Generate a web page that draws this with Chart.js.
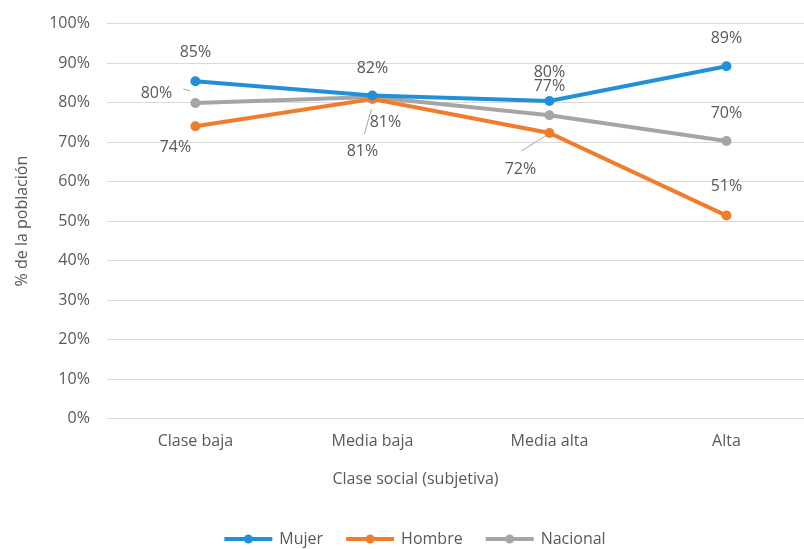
<!DOCTYPE html>
<html>
<head>
<meta charset="utf-8">
<script src="https://cdn.jsdelivr.net/npm/chart.js@4.4.1/dist/chart.umd.min.js"></script>
<style>
  html, body { margin: 0; padding: 0; background: #fff; overflow: hidden; }
  .chart-container { position: relative; width: 820px; height: 552px; margin-top: -3px; }
</style>
</head>
<body>
<div class="chart-container"><canvas id="chart"></canvas></div>
<script>
const categories = ["Clase baja", "Media baja", "Media alta", "Alta"];
const mujer = [85.4, 81.8, 80.4, 89.2];
const hombre = [74.0, 80.9, 72.3, 51.4];
const nacional = [79.9, 81.4, 76.8, 70.3];

const colors = { mujer: "#2190d8", hombre: "#f07d2c", nacional: "#a5a5a5" };
const textColor = "#595959";
const font = "'Open Sans', 'DejaVu Sans', sans-serif";

// label offsets from each point, in px, plus optional leader lines
const labelPlacement = [
  { offsets: [[0, -29], [0, -27], [0, -29], [0, -28]] },
  { offsets: [[-20, 21], [13, 23], [-29, 36], [0, -29]],
    leaders: [null, null, [-4, 3, -28, 18], null] },
  { offsets: [[-39, -10], [-10, 54], [0, -29], [0, -27]],
    leaders: [[-12, -14, -5, -12], [-1, 12, -8, 37], null, null] },
];

function legendIcon(color) {
  const c = document.createElement("canvas");
  c.width = 52;
  c.height = 12;
  const ctx = c.getContext("2d");
  ctx.strokeStyle = color;
  ctx.lineWidth = 4;
  ctx.beginPath();
  ctx.moveTo(2, 6);
  ctx.lineTo(50, 6);
  ctx.stroke();
  ctx.fillStyle = color;
  ctx.beginPath();
  ctx.arc(26, 6, 4.5, 0, Math.PI * 2);
  ctx.fill();
  return c;
}

const pointLabels = {
  id: "pointLabels",
  afterDatasetsDraw(chart) {
    const ctx = chart.ctx;
    ctx.save();
    ctx.font = "16px " + font;
    ctx.fillStyle = textColor;
    ctx.textAlign = "center";
    ctx.textBaseline = "middle";
    chart.data.datasets.forEach((ds, i) => {
      const meta = chart.getDatasetMeta(i);
      const place = labelPlacement[i];
      meta.data.forEach((pt, j) => {
        const [dx, dy] = place.offsets[j];
        if (place.leaders && place.leaders[j]) {
          const l = place.leaders[j];
          ctx.strokeStyle = "#a6a6a6";
          ctx.lineWidth = 1;
          ctx.beginPath();
          ctx.moveTo(pt.x + l[0], pt.y + l[1]);
          ctx.lineTo(pt.x + l[2], pt.y + l[3]);
          ctx.stroke();
        }
        ctx.fillText(Math.round(ds.data[j]) + "%", pt.x + dx, pt.y + dy);
      });
    });
    ctx.restore();
  },
};

const makeSet = (label, data, color) => ({
  label: label,
  data: data,
  borderColor: color,
  backgroundColor: color,
  borderWidth: 4,
  pointRadius: 5,
  pointHoverRadius: 5,
  pointBorderWidth: 0,
  tension: 0,
  legendIcon: legendIcon(color),
});

new Chart(document.getElementById("chart"), {
  type: "line",
  data: {
    labels: categories,
    datasets: [
      makeSet("Mujer", mujer, colors.mujer),
      makeSet("Hombre", hombre, colors.hombre),
      makeSet("Nacional", nacional, colors.nacional),
    ],
  },
  plugins: [pointLabels],
  options: {
    responsive: true,
    maintainAspectRatio: false,
    animation: false,
    layout: { padding: { left: 13, right: 2, top: 12, bottom: -8 } },
    scales: {
      x: {
        offset: true,
        grid: { display: false, drawTicks: false },
        border: { display: false },
        ticks: { color: textColor, font: { family: font, size: 16 }, padding: 13 },
      },
      y: {
        min: 0,
        max: 100,
        grid: { color: "#d9d9d9", drawTicks: false },
        border: { display: false },
        ticks: {
          stepSize: 10,
          padding: 17,
          color: textColor,
          font: { family: font, size: 16 },
          callback: (v) => v + "%",
        },
        title: {
          display: true,
          text: "% de la población",
          color: textColor,
          font: { family: font, size: 16 },
          padding: { top: 0, bottom: 0 },
        },
      },
    },
    plugins: {
      title: {
        display: true,
        position: "bottom",
        weight: 500,
        text: "Clase social (subjetiva)",
        color: textColor,
        font: { family: font, size: 16, weight: "normal" },
        padding: { top: 6, bottom: 18 },
      },
      legend: {
        position: "bottom",
        labels: {
          color: textColor,
          font: { family: font, size: 16 },
          usePointStyle: true,
          pointStyleWidth: 46,
          padding: 24,
          generateLabels: (chart) =>
            chart.data.datasets.map((ds, i) => ({
              text: ds.label,
              pointStyle: ds.legendIcon,
              fillStyle: ds.borderColor,
              strokeStyle: ds.borderColor,
              fontColor: textColor,
              lineWidth: 0,
              datasetIndex: i,
              hidden: false,
            })),
        },
      },
      tooltip: { enabled: false },
    },
  },
});
</script>
</body>
</html>
